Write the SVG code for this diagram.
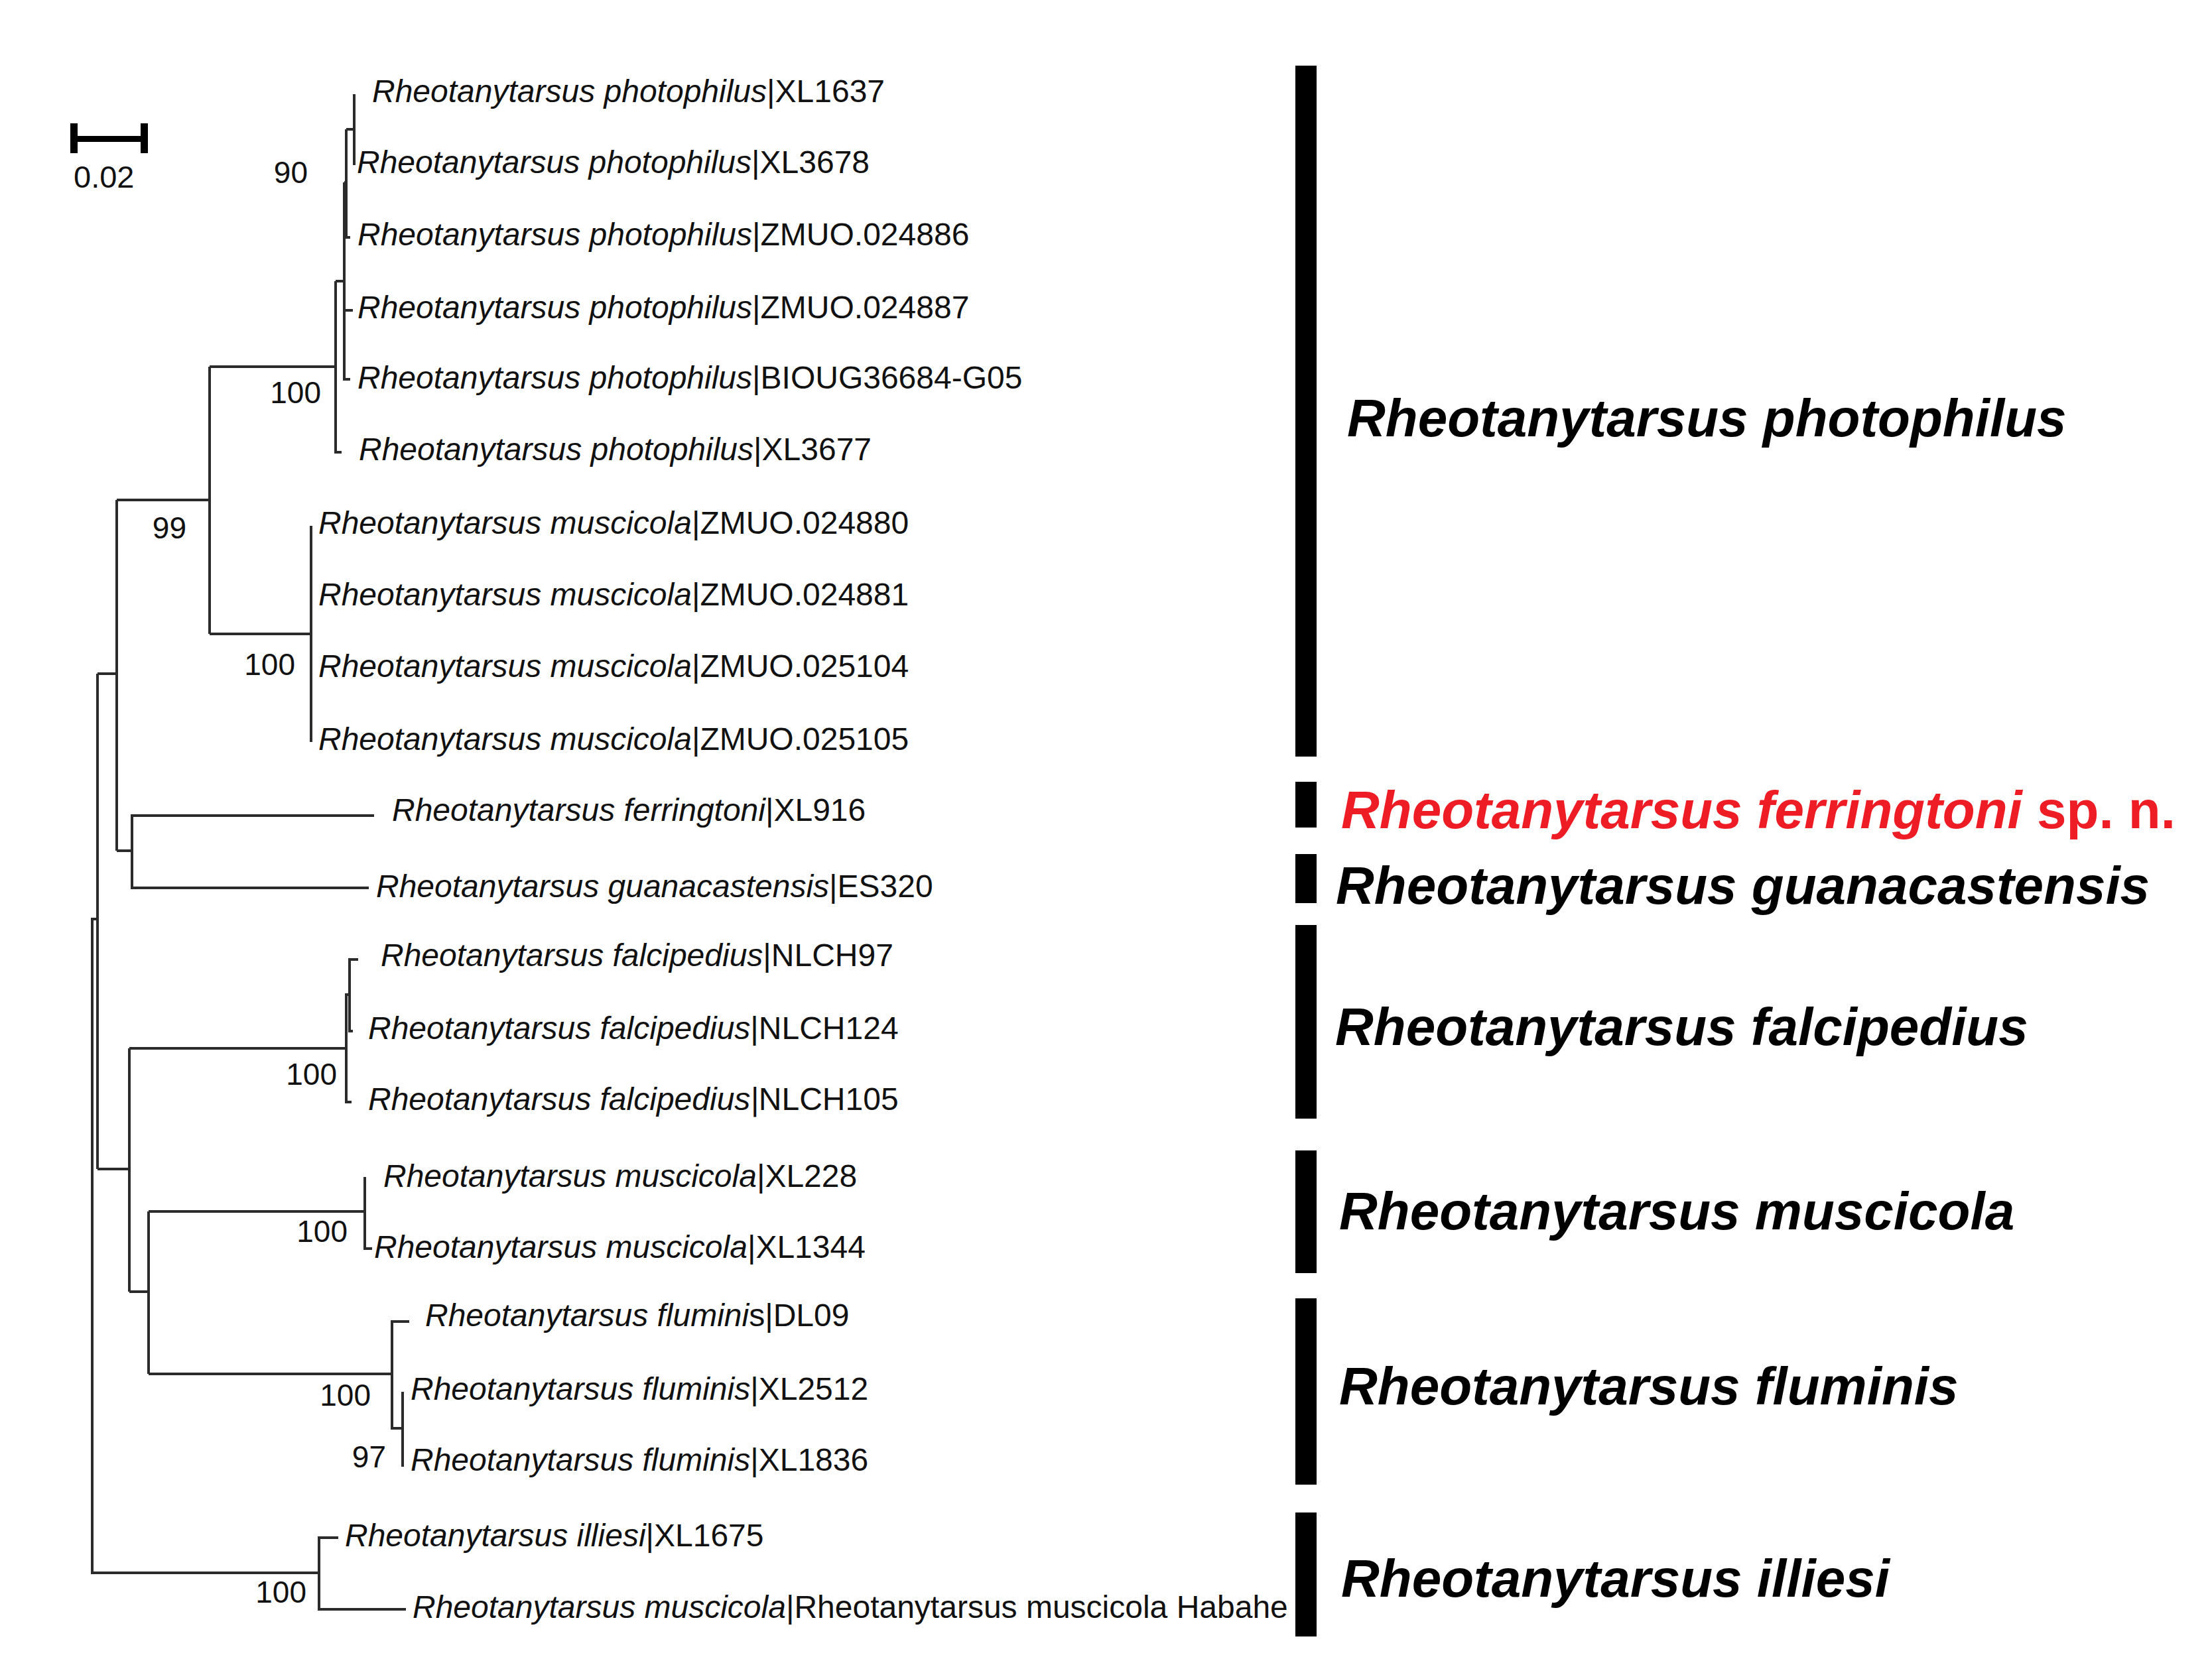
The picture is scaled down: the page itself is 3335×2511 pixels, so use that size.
<svg xmlns="http://www.w3.org/2000/svg" width="3335" height="2511" viewBox="0 0 3335 2511">
<style>
.tip{font-family:"Liberation Sans",Arial,sans-serif;font-size:48px;fill:#111}
.it{font-style:italic}
.bs{font-family:"Liberation Sans",Arial,sans-serif;font-size:46px;fill:#111;text-anchor:end}
.clade{font-family:"Liberation Sans",Arial,sans-serif;font-size:80px;font-weight:bold;font-style:italic;fill:#000}
.red{fill:#ee1c25}
.bar{fill:#000}
.br{fill:none;stroke:#2b2b2b;stroke-width:4}
</style>
<rect width="3335" height="2511" fill="#fff"/>
<g id="scale">
<rect x="106" y="186" width="11" height="45" fill="#000"/>
<rect x="212" y="186" width="11" height="45" fill="#000"/>
<rect x="111" y="205" width="106" height="9" fill="#000"/>
<text class="tip" x="111" y="283" style="font-size:47px">0.02</text>
</g>
<g id="connectors">
<path class="br" d="M147 1386H139V2372H481 M147 1016V1763 M176 1016H147 M195 1763H147
M176 754V1283 M316 754H176 M199 1283H176
M316 553V956 M506 553H316 M469 956H316
M506 424V682H515 M519 424H506
M519 275V572H528 M522 275H519 M519 468H532
M522 195V358H528 M534 195H522
M534 142V249
M469 793V1119
M564 1230H199V1339H556
M195 1581V1948 M522 1581H195 M224 1948H195
M527 1500H522V1662H530
M540 1447H527V1555H532
M224 1827V2072 M550 1827H224 M591 2072H224
M550 1775V1883H561
M617 1993H591V2154H607
M607 2099V2212
M510 2319H481V2427H612"/>
</g>
<g id="support">
<text class="bs" x="464" y="276">90</text>
<text class="bs" x="484" y="608">100</text>
<text class="bs" x="281" y="812">99</text>
<text class="bs" x="445" y="1018">100</text>
<text class="bs" x="508" y="1636">100</text>
<text class="bs" x="524" y="1873">100</text>
<text class="bs" x="559" y="2120">100</text>
<text class="bs" x="582" y="2213">97</text>
<text class="bs" x="462" y="2417">100</text>
</g>
<g id="tips">
<text class="tip" x="561" y="154"><tspan class="it">Rheotanytarsus photophilus</tspan>|XL1637</text>
<text class="tip" x="538" y="261"><tspan class="it">Rheotanytarsus photophilus</tspan>|XL3678</text>
<text class="tip" x="539" y="370"><tspan class="it">Rheotanytarsus photophilus</tspan>|ZMUO.024886</text>
<text class="tip" x="539" y="480"><tspan class="it">Rheotanytarsus photophilus</tspan>|ZMUO.024887</text>
<text class="tip" x="539" y="586"><tspan class="it">Rheotanytarsus photophilus</tspan>|BIOUG36684-G05</text>
<text class="tip" x="541" y="694"><tspan class="it">Rheotanytarsus photophilus</tspan>|XL3677</text>
<text class="tip" x="480" y="805"><tspan class="it">Rheotanytarsus muscicola</tspan>|ZMUO.024880</text>
<text class="tip" x="480" y="913"><tspan class="it">Rheotanytarsus muscicola</tspan>|ZMUO.024881</text>
<text class="tip" x="480" y="1021"><tspan class="it">Rheotanytarsus muscicola</tspan>|ZMUO.025104</text>
<text class="tip" x="480" y="1131"><tspan class="it">Rheotanytarsus muscicola</tspan>|ZMUO.025105</text>
<text class="tip" x="591" y="1238"><tspan class="it">Rheotanytarsus ferringtoni</tspan>|XL916</text>
<text class="tip" x="567" y="1353"><tspan class="it">Rheotanytarsus guanacastensis</tspan>|ES320</text>
<text class="tip" x="574" y="1457"><tspan class="it">Rheotanytarsus falcipedius</tspan>|NLCH97</text>
<text class="tip" x="555" y="1567"><tspan class="it">Rheotanytarsus falcipedius</tspan>|NLCH124</text>
<text class="tip" x="555" y="1674"><tspan class="it">Rheotanytarsus falcipedius|</tspan>NLCH105</text>
<text class="tip" x="578" y="1790"><tspan class="it">Rheotanytarsus muscicola</tspan>|XL228</text>
<text class="tip" x="564" y="1897"><tspan class="it">Rheotanytarsus muscicola</tspan>|XL1344</text>
<text class="tip" x="641" y="2000"><tspan class="it">Rheotanytarsus flumini</tspan>s|DL09</text>
<text class="tip" x="619" y="2111"><tspan class="it">Rheotanytarsus fluminis</tspan>|XL2512</text>
<text class="tip" x="619" y="2218"><tspan class="it">Rheotanytarsus fluminis</tspan>|XL1836</text>
<text class="tip" x="520" y="2332"><tspan class="it">Rheotanytarsus illiesi</tspan>|XL1675</text>
<text class="tip" x="622" y="2440"><tspan class="it">Rheotanytarsus muscicola</tspan>|Rheotanytarsus muscicola Habahe</text>
</g>
<g id="clade-photophilus"><rect class="bar" x="1953" y="99" width="32" height="1042"/><text class="clade" x="2031" y="658">Rheotanytarsus photophilus</text></g>
<g id="clade-ferringtoni"><rect class="bar" x="1953" y="1179" width="32" height="69"/><text class="clade red" x="2022" y="1249">Rheotanytarsus ferringtoni<tspan style="font-style:normal"> sp. n.</tspan></text></g>
<g id="clade-guanacastensis"><rect class="bar" x="1953" y="1288" width="32" height="74"/><text class="clade" x="2014" y="1363">Rheotanytarsus guanacastensis</text></g>
<g id="clade-falcipedius"><rect class="bar" x="1953" y="1395" width="32" height="292"/><text class="clade" x="2013" y="1576">Rheotanytarsus falcipedius</text></g>
<g id="clade-muscicola"><rect class="bar" x="1953" y="1735" width="32" height="185"/><text class="clade" x="2019" y="1854">Rheotanytarsus muscicola</text></g>
<g id="clade-fluminis"><rect class="bar" x="1953" y="1958" width="32" height="281"/><text class="clade" x="2019" y="2118">Rheotanytarsus fluminis</text></g>
<g id="clade-illiesi"><rect class="bar" x="1953" y="2281" width="32" height="187"/><text class="clade" x="2022" y="2408">Rheotanytarsus illiesi</text></g>
</svg>
